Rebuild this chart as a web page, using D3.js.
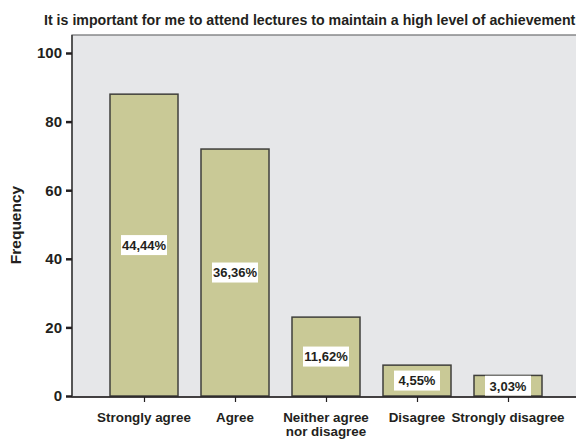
<!DOCTYPE html>
<html>
<head>
<meta charset="utf-8">
<script src="https://cdn.jsdelivr.net/npm/d3@7"></script>
<style>
  body { margin: 0; background: #fff; }
  text { font-family: 'Liberation Sans', Arial, sans-serif; font-weight: bold; fill: #231f20; }
</style>
</head>
<body>
<svg width="576" height="439"></svg>
<script>
const title = 'It is important for me to attend lectures to maintain a high level of achievement'
const categories = ['Strongly agree', 'Agree', 'Neither agree|nor disagree', 'Disagree', 'Strongly disagree']
const frequencies = [88, 72, 23, 9, 6]
const percentLabels = ['44,44%', '36,36%', '11,62%', '4,55%', '3,03%']
const yTicks = [0, 20, 40, 60, 80, 100]

const svg = d3.select('svg')
const plot = { left: 72, top: 35, right: 580, bottom: 397 }

const x = d3.scalePoint()
  .domain(categories)
  .range([98.5, 553.5])
  .padding(0.5)
const barWidth = 68

const y = d3.scaleLinear()
  .domain([0, 100])
  .range([396, 53])

// plot background
svg.append('rect')
  .attr('x', plot.left).attr('y', plot.top)
  .attr('width', plot.right - plot.left).attr('height', plot.bottom - plot.top)
  .attr('fill', '#e6e7e9')
  .attr('stroke', '#6d6e70').attr('stroke-width', 1.2)

// title
svg.append('text')
  .attr('x', 44).attr('y', 25)
  .attr('font-size', 14.2)
  .text(title)

// bars
svg.selectAll('rect.bar').data(frequencies)
  .join('rect')
  .attr('class', 'bar')
  .attr('x', (d, i) => x(categories[i]) - barWidth / 2)
  .attr('width', barWidth)
  .attr('y', d => y(d))
  .attr('height', d => y(0) - y(d))
  .attr('fill', '#c9c996')
  .attr('stroke', '#3f3f3b')
  .attr('stroke-width', 1.5)

// percent labels
const lab = svg.selectAll('g.lab').data(frequencies)
  .join('g')
  .attr('class', 'lab')
  .attr('transform', (d, i) => `translate(${x(categories[i])},${(y(d) + y(0)) / 2})`)
lab.append('rect')
  .attr('x', -23).attr('width', 46)
  .attr('y', -10).attr('height', 20)
  .attr('fill', '#fff')
lab.append('text')
  .attr('text-anchor', 'middle')
  .attr('dy', '0.37em')
  .attr('font-size', 13)
  .text((d, i) => percentLabels[i])

// x axis
svg.append('line')
  .attr('x1', plot.left).attr('x2', plot.right)
  .attr('y1', plot.bottom).attr('y2', plot.bottom)
  .attr('stroke', '#231f20').attr('stroke-width', 1.5)
const xa = svg.append('g').attr('transform', `translate(0,${plot.bottom})`)
  .call(d3.axisBottom(x).tickSize(5).tickFormat(''))
xa.select('.domain').remove()
xa.selectAll('line').attr('stroke', '#231f20').attr('stroke-width', 1.2)
xa.selectAll('.tick text').remove()
categories.forEach(c => {
  const t = svg.append('text')
    .attr('x', x(c)).attr('y', 422)
    .attr('text-anchor', 'middle')
    .attr('font-size', 13.4)
  c.split('|').forEach((line, j) => {
    t.append('tspan').attr('x', x(c)).attr('dy', j === 0 ? 0 : 13.5).text(line)
  })
})

// y axis
svg.append('line')
  .attr('x1', plot.left).attr('x2', plot.left)
  .attr('y1', plot.top).attr('y2', plot.bottom)
  .attr('stroke', '#3d3d3d').attr('stroke-width', 1.5)
const ya = svg.append('g').attr('transform', `translate(${plot.left},0)`)
  .call(d3.axisLeft(y).tickValues(yTicks).tickSize(6).tickPadding(4))
ya.select('.domain').remove()
ya.selectAll('line').attr('stroke', '#231f20').attr('stroke-width', 2.5)
ya.selectAll('text').attr('font-size', 15).attr('font-family', null).attr('font-weight', 'bold')

svg.append('text')
  .attr('transform', 'translate(21,225) rotate(-90)')
  .attr('text-anchor', 'middle')
  .attr('font-size', 15.5)
  .text('Frequency')
</script>
</body>
</html>
